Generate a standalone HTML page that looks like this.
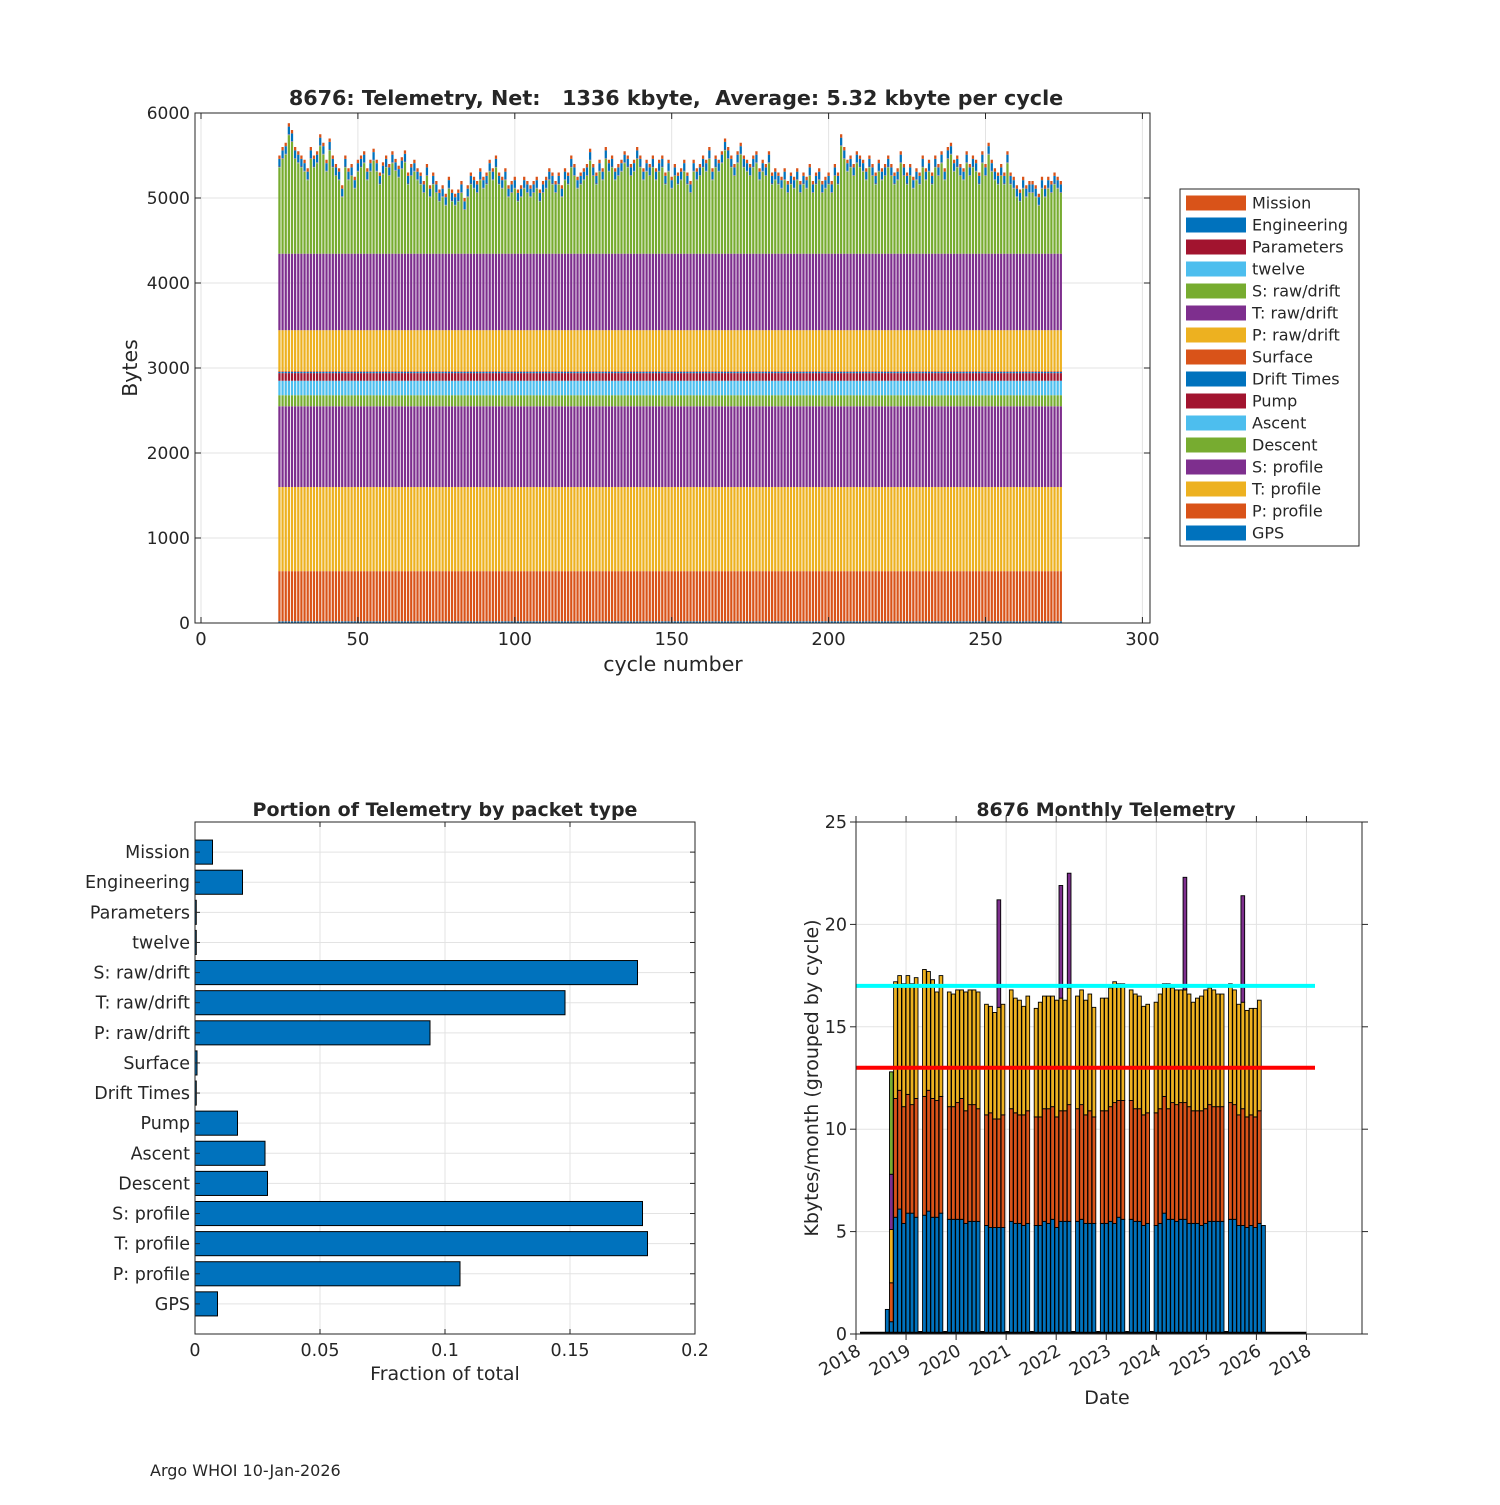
<!DOCTYPE html>
<html><head><meta charset="utf-8"><style>
body{margin:0;background:#fff;}
svg text{font-family:"DejaVu Sans","Liberation Sans",sans-serif;fill:#262626;}
</style></head><body>
<svg id="fig" width="1500" height="1500" viewBox="0 0 1500 1500" xmlns="http://www.w3.org/2000/svg">
<rect width="1500" height="1500" fill="#fff"/>
<g id="top"></g>
<g id="bl"></g>
<g id="br"></g>
<g id="legend"></g>
<text x="150" y="1476" font-size="16">Argo WHOI 10-Jan-2026</text>
</svg>
<script>
// ---------- top chart data ----------
const cycleStart = 25;
const cycleTotals = [
5500,5600,5650,5880,5800,5600,5550,5500,5450,5350,
5600,5500,5550,5750,5650,5450,5700,5500,5400,5350,
5150,5500,5350,5400,5250,5450,5500,5550,5350,5450,
5580,5450,5300,5420,5500,5400,5550,5460,5380,5480,
5560,5300,5400,5450,5350,5300,5200,5400,5150,5300,
5200,5100,5150,5050,5250,5100,5050,5100,5200,5000,
5150,5300,5250,5200,5350,5250,5300,5450,5350,5500,
5300,5250,5350,5150,5200,5250,5100,5150,5250,5200,
5150,5200,5250,5100,5200,5250,5350,5300,5200,5300,
5150,5350,5300,5500,5400,5250,5300,5350,5400,5580,
5400,5300,5450,5350,5600,5450,5500,5350,5400,5450,
5550,5500,5400,5450,5600,5500,5350,5450,5400,5500,
5350,5450,5500,5300,5450,5250,5400,5300,5350,5450,
5300,5200,5450,5350,5400,5500,5450,5600,5350,5500,
5450,5550,5700,5600,5500,5400,5550,5650,5500,5450,
5400,5500,5550,5350,5450,5400,5550,5300,5350,5300,
5250,5350,5200,5300,5250,5350,5200,5300,5250,5400,
5200,5300,5350,5200,5250,5300,5200,5400,5300,5750,
5600,5450,5500,5400,5550,5500,5450,5350,5500,5400,
5300,5450,5350,5400,5500,5400,5300,5350,5550,5400,
5300,5400,5250,5350,5300,5500,5350,5450,5300,5500,
5400,5550,5350,5600,5650,5450,5500,5400,5350,5550,
5400,5500,5450,5300,5550,5400,5650,5450,5350,5300,
5400,5300,5550,5300,5250,5150,5100,5250,5150,5200,
5200,5150,5050,5250,5150,5250,5200,5300,5250,5200];
const packetNames = ["GPS","P: profile","T: profile","S: profile","Descent","Ascent","Pump","Drift Times","Surface","P: raw/drift","T: raw/drift","S: raw/drift","twelve","Parameters","Engineering","Mission"];
const packetTypical = [20,590,990,950,130,170,90,15,10,480,900,null,5,5,90,40];
const packetColors = ["#0072BD","#D95319","#EDB120","#7E2F8E","#77AC30","#4DBEEE","#A2142F","#0072BD","#D95319","#EDB120","#7E2F8E","#77AC30","#4DBEEE","#A2142F","#0072BD","#D95319"];
const yTicksTop = [0,1000,2000,3000,4000,5000,6000];
const xTicksTop = [0,50,100,150,200,250,300];

// ---------- bottom-left data ----------
const fracNames = ["GPS","P: profile","T: profile","S: profile","Descent","Ascent","Pump","Drift Times","Surface","P: raw/drift","T: raw/drift","S: raw/drift","twelve","Parameters","Engineering","Mission"];
const fracValues = [0.009,0.106,0.181,0.179,0.029,0.028,0.017,0.0005,0.0008,0.094,0.148,0.177,0.0005,0.0005,0.019,0.007];
const fracTicks = [0,0.05,0.1,0.15,0.2];
const fracTickLabels = ["0","0.05","0.1","0.15","0.2"];

// ---------- bottom-right data (cumulative stack tops, Kbytes) ----------
const monthBlueTop = [1.2,0.6,5.7,6.1,5.4,5.9,5.9,5.7,0,5.8,6.0,5.7,5.7,5.9,0,5.6,5.6,5.6,5.6,5.4,5.5,5.5,5.5,0,5.3,5.2,5.2,5.2,5.2,0,5.5,5.4,5.4,5.3,5.4,0,5.3,5.3,5.5,5.4,5.6,5.2,5.5,5.5,5.5,0,5.5,5.6,5.4,5.4,5.4,0,5.4,5.4,5.5,5.4,5.7,5.6,0,5.6,5.5,5.5,5.3,5.4,0,5.3,5.4,5.9,5.6,5.6,5.5,5.6,5.6,5.4,5.4,5.4,5.3,5.4,5.5,5.5,5.5,5.5,0,5.6,5.6,5.3,5.3,5.2,5.3,5.2,5.4,5.3];
const monthOrangeTop = [0,2.5,11.5,11.9,11.1,11.7,11.2,11.5,0,11.6,11.9,11.5,11.4,11.6,0,11.1,11.1,11.3,11.5,10.9,11.2,11.2,11.0,0,10.7,10.8,10.5,10.5,10.7,0,11.0,10.8,10.7,10.7,10.9,0,10.6,10.6,11.0,11.0,11.1,10.6,10.9,10.9,11.2,0,11.0,11.2,10.7,10.9,10.6,0,10.9,10.9,11.1,11.3,11.4,11.4,0,11.4,11.0,11.0,10.7,10.8,0,10.8,11.0,11.6,11.0,11.3,11.2,11.3,11.3,11.1,10.9,10.9,10.9,11.0,11.2,11.1,11.1,11.1,0,11.3,11.2,10.7,11.0,10.6,10.7,10.6,10.9,0];
const monthYellowTop = [0,5.1,17.2,17.5,17.1,17.5,17.1,17.4,0,17.8,17.7,17.3,16.7,17.5,0,16.7,16.6,16.8,16.8,16.7,16.8,16.8,16.7,0,16.1,16.0,15.7,15.95,16.1,0,16.8,16.4,16.3,16.0,16.5,0,15.9,16.2,16.5,16.5,16.5,16.3,16.4,16.3,16.9,0,16.5,16.8,16.3,16.6,15.95,0,16.4,16.4,16.9,17.2,17.1,17.1,0,16.8,16.6,16.5,16.0,16.1,0,16.2,16.6,17.1,17.1,16.9,16.8,16.8,16.8,16.6,16.2,16.4,16.5,16.8,16.9,16.8,16.6,16.6,0,17.1,16.8,16.1,16.2,15.8,15.9,15.9,16.3,0];
const monthPurpleTop = [0,7.8,0,0,0,0,0,0,0,0,0,0,0,0,0,0,0,0,0,0,0,0,0,0,0,0,0,21.2,0,0,0,0,0,0,0,0,0,0,0,0,0,0,21.9,0,22.5,0,0,0,0,0,0,0,0,0,0,0,0,0,0,0,0,0,0,0,0,0,0,0,0,0,0,0,22.3,0,0,0,0,0,0,0,0,0,0,0,0,0,21.4,0,0,0,0,0];
const monthGreenTop = [0,12.8,0,0,0,0,0,0,0,0,0,0,0,0,0,0,0,0,0,0,0,0,0,0,0,0,0,0,0,0,0,0,0,0,0,0,0,0,0,0,0,0,0,0,0,0,0,0,0,0,0,0,0,0,0,0,0,0,0,0,0,0,0,0,0,0,0,0,0,0,0,0,0,0,0,0,0,0,0,0,0,0,0,0,0,0,0,0,0,0,0,0];
const monthlyYTicks = [0,5,10,15,20,25];
const yearTickLabels = ["2018","2019","2020","2021","2022","2023","2024","2025","2026","2018"];
const refLineCyan = 17;
const refLineRed = 13;

const NS="http://www.w3.org/2000/svg";
function mk(parent, tag, attrs, txt){const e=document.createElementNS(NS,tag);for(const k in attrs)e.setAttribute(k,attrs[k]);if(txt!==undefined)e.textContent=txt;parent.appendChild(e);return e;}

// ===== TOP CHART =====
(function(){
const g=document.getElementById('top');
const L=195,R=1150,T=113,B=623;
const xT=v=>201+v*3.138, yT=v=>623-v*0.085;
for(const t of yTicksTop){const l=mk(g,'line',{x1:L,x2:R,y1:yT(t),y2:yT(t),stroke:'#e3e3e3','stroke-width':1});

}
for(const t of xTicksTop){const l=mk(g,'line',{x1:xT(t),x2:xT(t),y1:T,y2:B,stroke:'#e3e3e3','stroke-width':1});

}
const bw=3.138*0.72;
const fixedSum=packetTypical.reduce((a,v)=>a+(v||0),0);
cycleTotals.forEach((tot,i)=>{
  const c=cycleStart+i; let base=0;
  packetTypical.forEach((v,k)=>{
    const val = v===null ? Math.max(0,tot-fixedSum) : v;
    const r=mk(g,'rect',{x:xT(c)-bw/2,y:yT(base+val),width:bw,height:Math.max(0,yT(base)-yT(base+val)),fill:packetColors[k]});
    
    
    base+=val;
  });
});
mk(g,'rect',{x:L,y:T,width:R-L,height:B-T,fill:'none',stroke:'#262626','stroke-width':1});
for(const t of yTicksTop){mk(g,'line',{x1:L,x2:L+6,y1:yT(t),y2:yT(t),stroke:'#262626'});mk(g,'line',{x1:R,x2:R-6,y1:yT(t),y2:yT(t),stroke:'#262626'});
const tx=mk(g,'text',{x:L-5,y:yT(t)+6,'text-anchor':'end','font-size':17},String(t));

}
for(const t of xTicksTop){mk(g,'line',{x1:xT(t),x2:xT(t),y1:B,y2:B-6,stroke:'#262626'});mk(g,'line',{x1:xT(t),x2:xT(t),y1:T,y2:T+6,stroke:'#262626'});
const tx=mk(g,'text',{x:xT(t),y:B+22,'text-anchor':'middle','font-size':18},String(t));

}
const ti=mk(g,'text',{x:676,y:105,'text-anchor':'middle','font-size':20.7,'font-weight':'bold',style:'white-space:pre'},'8676: Telemetry, Net:   1336 kbyte,  Average: 5.32 kbyte per cycle');


const xl=mk(g,'text',{x:673,y:671,'text-anchor':'middle','font-size':20.5},'cycle number');


const yl=mk(g,'text',{x:0,y:0,'text-anchor':'middle','font-size':20.5,transform:'translate(137,368) rotate(-90)'},'Bytes');


})();

// ===== LEGEND =====
(function(){
const g=document.getElementById('legend');
mk(g,'rect',{x:1180,y:189,width:179,height:357,fill:'#fff',stroke:'#262626','stroke-width':1});
for(let j=0;j<16;j++){
  const k=15-j; const y=203+j*22;
  const sw=mk(g,'rect',{x:1186,y:y-7.5,width:60,height:15,fill:packetColors[k]});
  
  
  const tx=mk(g,'text',{x:1252,y:y+5.5,'font-size':16},packetNames[k]);
  
  
}
})();

// ===== BOTTOM LEFT =====
(function(){
const g=document.getElementById('bl');
const L=195,R=695,T=822,B=1334;
const xF=v=>L+v*2500, yF=v=>B-v*30.118;
fracTicks.forEach(t=>{const l=mk(g,'line',{x1:xF(t),x2:xF(t),y1:T,y2:B,stroke:'#e3e3e3'});

});
fracNames.forEach((n,i)=>{const l=mk(g,'line',{x1:L,x2:R,y1:yF(i+1),y2:yF(i+1),stroke:'#e3e3e3'});

});
fracValues.forEach((v,i)=>{
  const h=0.8*30.118;
  const r=mk(g,'rect',{x:xF(0),y:yF(i+1)-h/2,width:Math.max(0.5,xF(v)-xF(0)),height:h,fill:'#0072BD',stroke:'#000','stroke-width':1});
  
  
});
mk(g,'rect',{x:L,y:T,width:R-L,height:B-T,fill:'none',stroke:'#262626'});
fracNames.forEach((n,i)=>{mk(g,'line',{x1:L,x2:L+5,y1:yF(i+1),y2:yF(i+1),stroke:'#262626'});mk(g,'line',{x1:R,x2:R-5,y1:yF(i+1),y2:yF(i+1),stroke:'#262626'});
const tx=mk(g,'text',{x:L-5,y:yF(i+1)+6,'text-anchor':'end','font-size':17.5},n);

});
fracTicks.forEach((t,i)=>{mk(g,'line',{x1:xF(t),x2:xF(t),y1:B,y2:B-5,stroke:'#262626'});mk(g,'line',{x1:xF(t),x2:xF(t),y1:T,y2:T+5,stroke:'#262626'});
const tx=mk(g,'text',{x:xF(t),y:B+22,'text-anchor':'middle','font-size':17.5},fracTickLabels[i]);

});
const ti=mk(g,'text',{x:445,y:816,'text-anchor':'middle','font-size':19,'font-weight':'bold'},'Portion of Telemetry by packet type');


const xl=mk(g,'text',{x:445,y:1380,'text-anchor':'middle','font-size':19},'Fraction of total');


})();

// ===== BOTTOM RIGHT =====
(function(){
const g=document.getElementById('br');
const L=856,R=1362,T=822,B=1334;
const yM=v=>B-v*20.48;
const xYear=k=>856+k*50.05;
const xMonth=i=>887.2+i*4.135;
monthlyYTicks.forEach(t=>{const l=mk(g,'line',{x1:L,x2:R,y1:yM(t),y2:yM(t),stroke:'#e3e3e3'});

});
yearTickLabels.forEach((s,k)=>{const l=mk(g,'line',{x1:xYear(k),x2:xYear(k),y1:T,y2:B,stroke:'#e3e3e3'});

});
const bw=3.7;
const layers=[[monthBlueTop,'#0072BD'],[monthOrangeTop,'#D95319'],[monthYellowTop,'#EDB120'],[monthPurpleTop,'#7E2F8E'],[monthGreenTop,'#77AC30']];
monthBlueTop.forEach((b,i)=>{
  let prev=0;
  if(b===0){const z=mk(g,'rect',{x:xMonth(i)-bw/2,y:B-3,width:bw,height:3,fill:'#000'});
    
    
    return;}
  layers.forEach(([arr,col])=>{
    const top=arr[i];
    if(top>prev){
      const r=mk(g,'rect',{x:xMonth(i)-bw/2,y:yM(top),width:bw,height:yM(prev)-yM(top),fill:col,stroke:'#000','stroke-width':0.9});
      
      
      prev=top;
    }
  });
});
const base=mk(g,'line',{x1:860,x2:xYear(9),y1:B-1,y2:B-1,stroke:'#000','stroke-width':2.5});


const cy=mk(g,'line',{x1:L,x2:1315,y1:yM(refLineCyan),y2:yM(refLineCyan),stroke:'#00FFFF','stroke-width':4});


const rd=mk(g,'line',{x1:L,x2:1315,y1:yM(refLineRed),y2:yM(refLineRed),stroke:'#FF0000','stroke-width':4});


mk(g,'rect',{x:L,y:T,width:R-L,height:B-T,fill:'none',stroke:'#262626'});
monthlyYTicks.forEach(t=>{mk(g,'line',{x1:L,x2:L-6,y1:yM(t),y2:yM(t),stroke:'#262626'});mk(g,'line',{x1:R,x2:R+6,y1:yM(t),y2:yM(t),stroke:'#262626'});
const tx=mk(g,'text',{x:L-9,y:yM(t)+6,'text-anchor':'end','font-size':17.5},String(t));

});
yearTickLabels.forEach((s,k)=>{const x=xYear(k);
mk(g,'line',{x1:x,x2:x,y1:B,y2:B+6,stroke:'#262626'});mk(g,'line',{x1:x,x2:x,y1:T,y2:T-6,stroke:'#262626'});
const tx=mk(g,'text',{x:0,y:0,'text-anchor':'end','font-size':17.5,transform:`translate(${x+6},${B+20}) rotate(-30)`},s);

});
const ti=mk(g,'text',{x:1106,y:816,'text-anchor':'middle','font-size':19,'font-weight':'bold'},'8676 Monthly Telemetry');


const xl=mk(g,'text',{x:1107,y:1404,'text-anchor':'middle','font-size':19},'Date');


const yl=mk(g,'text',{x:0,y:0,'text-anchor':'middle','font-size':19,transform:'translate(818,1078) rotate(-90)'},'Kbytes/month (grouped by cycle)');


})();
</script>
</body></html>
